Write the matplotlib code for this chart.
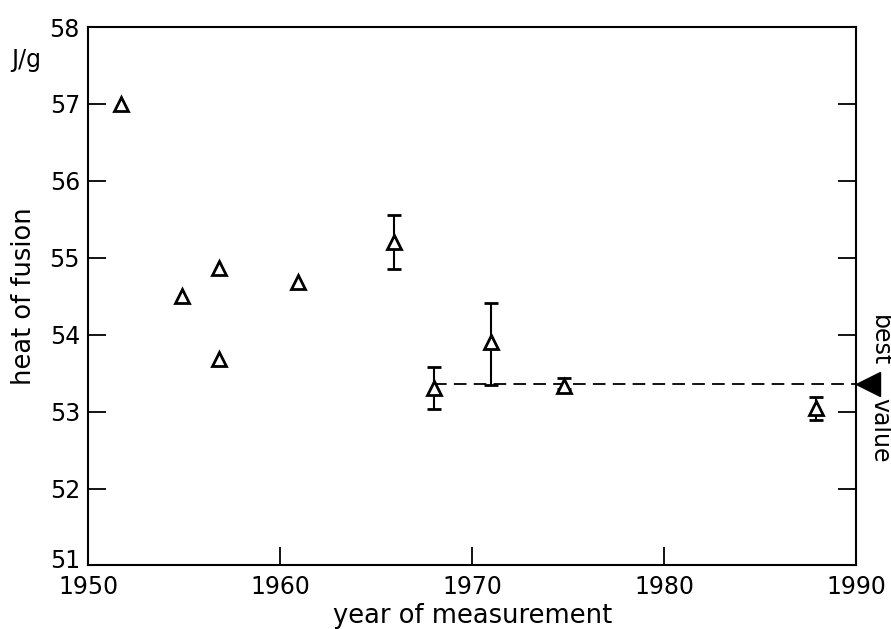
import numpy as np
import matplotlib
matplotlib.use("Agg")
import matplotlib.pyplot as plt
import matplotlib.transforms as mtransforms

# points without error bars
year_plain = [1951.7, 1954.9, 1956.8, 1956.8, 1960.9]
heat_plain = [57.0, 54.5, 54.87, 53.68, 54.68]

# points with error bars (lower, upper limits)
year_err = [1965.9, 1968.0, 1971.0, 1974.8, 1987.9]
heat_err = [55.2, 53.31, 53.9, 53.33, 53.05]
err_low = [54.85, 53.03, 53.35, 53.30, 52.89]
err_high = [55.55, 53.58, 54.41, 53.44, 53.19]

best_value = 53.36
best_from = 1968.0

plt.rcParams['font.family'] = ['DejaVu Sans']

fig = plt.figure(figsize=(8.91, 6.29), dpi=100)
ax = fig.add_axes([0.099, 0.101, 0.862, 0.856])

ax.plot(year_plain, heat_plain, linestyle='none', marker='^', ms=10,
        mfc='white', mec='black', mew=2.0, zorder=3)

yerr = np.array([np.array(heat_err) - np.array(err_low),
                 np.array(err_high) - np.array(heat_err)])
ax.errorbar(year_err, heat_err, yerr=yerr, fmt='^', ms=10, mfc='white',
            mec='black', mew=2.0, ecolor='black', elinewidth=1.5,
            capsize=5, capthick=1.7, zorder=3)

# best value dashed line and arrow
ax.plot([best_from, 1990], [best_value, best_value], color='black',
        lw=1.3, linestyle=(0, (7, 4)), zorder=2)
arrow_tr = mtransforms.offset_copy(ax.get_yaxis_transform(), fig=fig,
                                   x=12, y=0, units='dots')
ax.plot([1.0], [best_value], marker='<', ms=17, color='black',
        transform=arrow_tr, clip_on=False)

ax.set_xlim(1950, 1990)
ax.set_ylim(51, 58)
ax.set_xticks([1950, 1960, 1970, 1980, 1990])
ax.set_yticks(range(51, 59))
ax.tick_params(axis='both', direction='in', length=13, width=1.3,
               labelsize=17)
ax.tick_params(axis='y', right=True, pad=6)
ax.tick_params(axis='x', pad=7)
for s in ax.spines.values():
    s.set_linewidth(1.5)

# lift the lowest y label a little so it clears "1950"
fig.canvas.draw()
lab51 = ax.get_yticklabels()[0]
lab51.set_transform(lab51.get_transform() +
                    mtransforms.ScaledTranslation(0, 0.07, fig.dpi_scale_trans))

ax.set_xlabel('year of measurement', fontsize=18.5, labelpad=3)
ax.set_ylabel('heat of fusion', fontsize=18.5, labelpad=9)

fig.text(0.012, 0.905, 'J/g', fontsize=17, ha='left', va='center')
fig.text(0.988, 1 - 366 / 629, 'best', fontsize=17, rotation=270,
         ha='center', va='bottom')
fig.text(0.988, 1 - 398 / 629, 'value', fontsize=17, rotation=270,
         ha='center', va='top')

fig.savefig('out.png', dpi=100)
